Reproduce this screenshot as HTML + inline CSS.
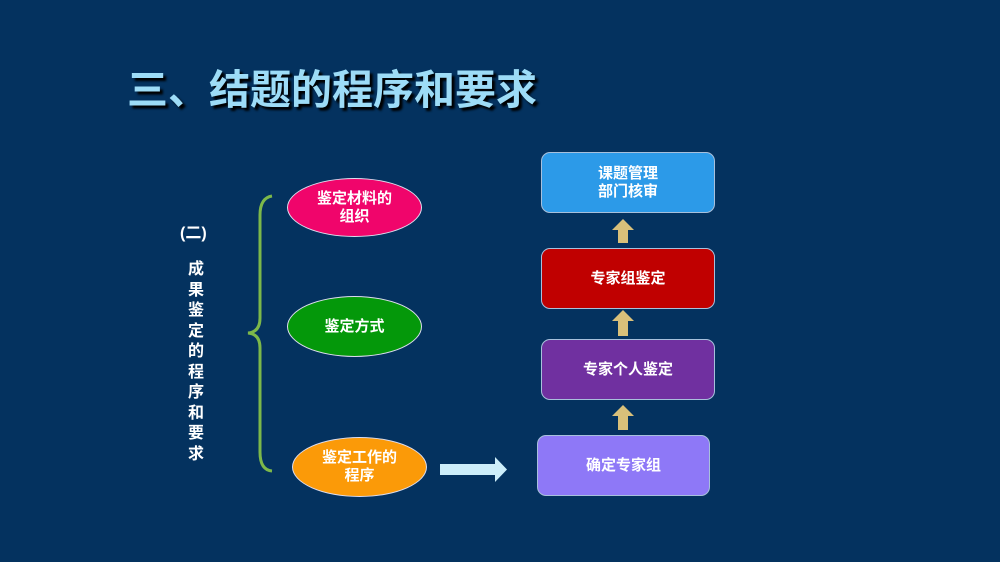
<!DOCTYPE html>
<html><head><meta charset="utf-8"><style>
body{margin:0;width:1000px;height:562px;background:#04325f;overflow:hidden;position:relative;font-family:"Liberation Sans","Noto Sans CJK SC",sans-serif;font-weight:bold;color:#fff}
.t{position:absolute;left:127px;top:56px;font-size:41px;color:#9ddcf7;text-shadow:3px 3px 2px #000;white-space:nowrap}
.e{position:absolute;border-radius:50%;border:1.5px solid #dde;display:flex;align-items:center;justify-content:center;text-align:center;font-size:15px;line-height:18px;box-sizing:border-box}
.b{position:absolute;border-radius:9px;border:1.5px solid #a8c0dc;display:flex;align-items:center;justify-content:center;text-align:center;font-size:15px;line-height:18px;box-sizing:border-box}
.v{position:absolute;left:186px;top:260px;width:20px;font-size:16px;line-height:20.5px;text-align:center}
</style></head><body>
<div class="t">三、结题的程序和要求</div>
<div style="position:absolute;left:180px;top:219px;font-size:16px">(二)</div>
<div class="v">成果鉴定的程序和要求</div>
<svg width="1000" height="562" style="position:absolute;left:0;top:0">
<path d="M272 196 Q260 198 260 215 L260 318 Q260 332 248 333 Q260 334 260 348 L260 452 Q260 470 272 471" fill="none" stroke="#7db84a" stroke-width="3"/>
<polygon points="440,464 495,464 495,457 507,469.5 495,482 495,475 440,475" fill="#cdeefa"/>
<g fill="#d9c07a">
<polygon points="623,219 634,230 628,230 628,243 618,243 618,230 612,230"/>
<polygon points="623,310 634,321 628,321 628,336 618,336 618,321 612,321"/>
<polygon points="623,405 634,416 628,416 628,430 618,430 618,416 612,416"/>
</g>
</svg>
<div class="e" style="left:287px;top:178px;width:135px;height:59px;background:#f0056b">鉴定材料的<br>组织</div>
<div class="e" style="left:287px;top:296px;width:135px;height:61px;background:#04980a">鉴定方式</div>
<div class="e" style="left:292px;top:437px;width:135px;height:60px;background:#fb9a08">鉴定工作的<br>程序</div>
<div class="b" style="left:541px;top:152px;width:174px;height:61px;background:#2c9ae8">课题管理<br>部门核审</div>
<div class="b" style="left:541px;top:248px;width:174px;height:61px;background:#c00000">专家组鉴定</div>
<div class="b" style="left:541px;top:339px;width:174px;height:61px;background:#7030a0">专家个人鉴定</div>
<div class="b" style="left:537px;top:435px;width:173px;height:61px;background:#8e78f7">确定专家组</div>
</body></html>
